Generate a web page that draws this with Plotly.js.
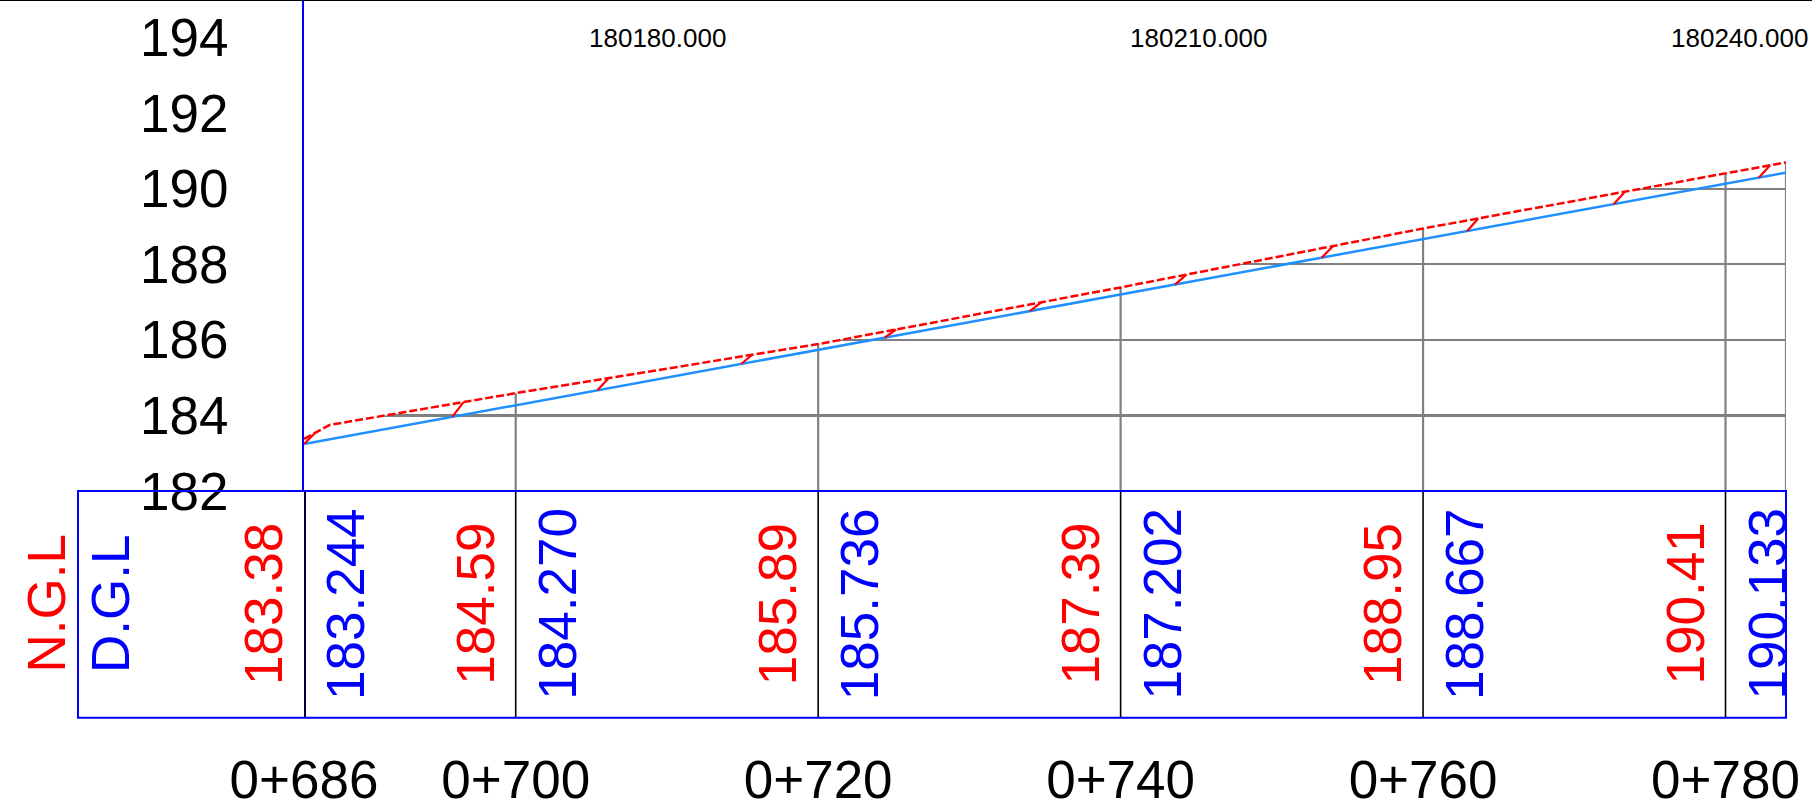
<!DOCTYPE html>
<html><head><meta charset="utf-8">
<script src="https://cdn.plot.ly/plotly-3.0.1.min.js"></script>
<style>html,body{margin:0;padding:0;background:#fff;overflow:hidden}#chart{width:1812px;height:810px}</style>
</head><body><div id="chart"></div>
<script>
// ---- data ----
const stations      = [686, 700, 720, 740, 760, 780];
const stationLabels = ['0+686', '0+700', '0+720', '0+740', '0+760', '0+780'];
const nglValues     = [183.38, 184.59, 185.89, 187.39, 188.95, 190.41];
const dglValues     = [183.244, 184.270, 185.736, 187.202, 188.667, 190.133];

// natural ground line profile (red dashed)
const nglChain = [686, 687.7, 700, 720, 740, 760, 780, 784];
const nglLevel = [183.38, 183.75, 184.59, 185.89, 187.39, 188.95, 190.41, 190.70];
// design ground line profile (blue)
const dglChain = [686, 700, 720, 740, 760, 780, 784];
const dglLevel = [183.244, 184.270, 185.736, 187.202, 188.667, 190.133, 190.43];

// hatch marks between the lines
const hatchChain = [686.0, 695.8, 705.4, 714.9, 724.4, 734.0, 743.6, 753.3, 762.9, 772.6, 782.2];
// vertical grid stations (drawn up to the ground line)
const gridChain = [700, 720, 740, 760, 780, 784];
// coordinate labels along the top
const coordChain  = [709.36, 745.17, 780.95];
const coordValues = [180180, 180210, 180240];

// ---- layout constants ----
const W = 1812, H = 810, ML = 304, MR = 26, MT = 0, MB = 319;
const plotW = W - ML - MR, plotH = H - MT - MB;
const X_RANGE = [686, 784], Y_RANGE = [182, 195];
const FONT = 'Liberation Sans, Arial, sans-serif';
const RED = '#FF0000', BLUE = '#0000FF', LBLUE = '#1E90FF', GRAY = '#808080';

const pxX = p => (p - ML) / plotW;
const pxY = p => (MT + plotH - p) / plotH;

function levelAt(c, xs, ys) {
  for (let i = 0; i < xs.length - 1; i++) {
    if (c >= xs[i] && c <= xs[i + 1]) {
      return ys[i] + (ys[i + 1] - ys[i]) * (c - xs[i]) / (xs[i + 1] - xs[i]);
    }
  }
  return ys[ys.length - 1];
}

// ---- traces ----
const traces = [];
// white mask above the ground line hides the grid there
traces.push({
  x: nglChain.concat([X_RANGE[1], X_RANGE[0]]),
  y: nglLevel.concat([Y_RANGE[1], Y_RANGE[1]]),
  mode: 'lines', fill: 'toself', fillcolor: '#ffffff',
  line: {width: 0, color: '#ffffff'}, hoverinfo: 'skip', showlegend: false
});
// vertical grid lines up to the ground line
const gx = [], gy = [];
gridChain.forEach(c => { gx.push(c, c, null); gy.push(Y_RANGE[0], levelAt(c, nglChain, nglLevel), null); });
traces.push({x: gx, y: gy, mode: 'lines', line: {color: GRAY, width: 2.2}, hoverinfo: 'skip', showlegend: false});
// design line
traces.push({x: dglChain, y: dglLevel, mode: 'lines', line: {color: LBLUE, width: 2.5}, name: 'D.G.L', showlegend: false});
// hatch marks
const hx = [], hy = [];
hatchChain.forEach(c => {
  const c2 = Math.min(c + 0.75, X_RANGE[1]);
  hx.push(c, c2, null);
  hy.push(levelAt(c, dglChain, dglLevel), levelAt(c2, nglChain, nglLevel), null);
});
traces.push({x: hx, y: hy, mode: 'lines', line: {color: RED, width: 2.2}, hoverinfo: 'skip', showlegend: false});
// natural ground line
traces.push({x: nglChain, y: nglLevel, mode: 'lines', line: {color: RED, width: 2.5, dash: '8px,3px'}, name: 'N.G.L', showlegend: false});

// ---- shapes (table) ----
const tableTop = 0, tableBottom = pxY(717.7), tableLeft = pxX(78);
const shapes = [];
// top frame line
shapes.push({type: 'line', xref: 'paper', yref: 'paper', x0: pxX(0), x1: pxX(W), y0: 1, y1: 1, line: {color: '#000', width: 2}});
// station separators in table
stations.forEach((c, i) => shapes.push({type: 'line', xref: 'x', yref: 'paper', x0: c, x1: c, y0: tableBottom, y1: tableTop,
  line: {color: i === 0 ? '#000040' : '#000', width: i === 0 ? 4 : 1.6}}));
// table border
shapes.push({type: 'rect', xref: 'paper', yref: 'paper', x0: tableLeft, x1: 1, y0: tableBottom, y1: tableTop, line: {color: BLUE, width: 2}});

// ---- annotations ----
const ann = [];
const rowY = pxY(604);
ann.push({xref: 'paper', yref: 'paper', x: pxX(45.5), y: rowY, text: 'N.G.L', textangle: -90, showarrow: false,
  font: {family: FONT, size: 53, color: RED}, xanchor: 'center', yanchor: 'middle'});
ann.push({xref: 'paper', yref: 'paper', x: pxX(110), y: rowY, text: 'D.G.L', textangle: -90, showarrow: false,
  font: {family: FONT, size: 53, color: BLUE}, xanchor: 'center', yanchor: 'middle'});
stations.forEach((c, i) => {
  ann.push({xref: 'x', yref: 'paper', x: c, y: rowY, xshift: -41, text: nglValues[i].toFixed(2), textangle: -90,
    showarrow: false, font: {family: FONT, size: 53, color: RED}, xanchor: 'center', yanchor: 'middle'});
  ann.push({xref: 'x', yref: 'paper', x: c, y: rowY, xshift: 41, text: dglValues[i].toFixed(3), textangle: -90,
    showarrow: false, font: {family: FONT, size: 53, color: BLUE}, xanchor: 'center', yanchor: 'middle'});
});
coordChain.forEach((c, i) => {
  ann.push({xref: 'x', yref: 'paper', x: c, y: pxY(38.3), text: coordValues[i].toFixed(3), showarrow: false,
    font: {family: FONT, size: 26, color: '#000'}, xanchor: 'center', yanchor: 'middle'});
});

const layout = {
  width: W, height: H,
  margin: {l: ML, r: MR, t: MT, b: MB, pad: 0},
  paper_bgcolor: '#fff', plot_bgcolor: '#fff',
  showlegend: false,
  xaxis: {
    range: X_RANGE, tickmode: 'array', tickvals: stations, ticktext: stationLabels,
    showgrid: false, zeroline: false, showline: false, ticks: '',
    tickfont: {family: FONT, size: 53, color: '#000'}, ticklabelstandoff: 253, automargin: false
  },
  yaxis: {
    range: Y_RANGE, tick0: 182, dtick: 2, showgrid: true, gridcolor: GRAY, gridwidth: 2.2,
    zeroline: false, showline: true, linecolor: BLUE, linewidth: 2, ticks: '',
    tickfont: {family: FONT, size: 53, color: '#000'}, ticklabelstandoff: 63, automargin: false
  },
  shapes: shapes,
  annotations: ann
};

Plotly.newPlot('chart', traces, layout, {displayModeBar: false, staticPlot: true});
</script>
</body></html>
